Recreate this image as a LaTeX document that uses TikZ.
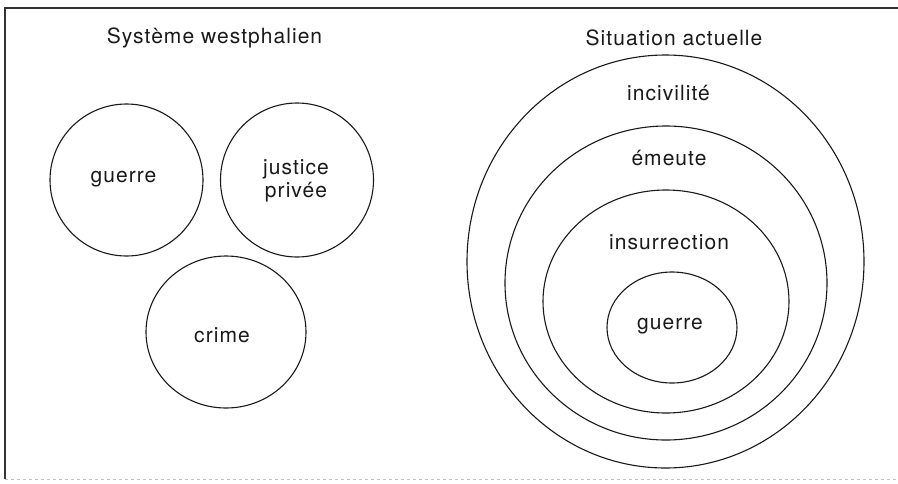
\documentclass[tikz,border=0pt]{standalone}
\usepackage{fontspec}
\setmainfont{TeX Gyre Heros}[LetterSpace=5]
\usetikzlibrary{shapes.geometric}
\begin{document}
\begin{tikzpicture}[x=1pt,y=-1pt,
  ring/.style={draw=black!90, line width=1.1pt, ellipse, inner sep=0pt},
  lbl/.style={font=\fontsize{21}{23}\selectfont, text=black!90, inner sep=0pt, align=center},
  ttl/.style={font=\fontsize{21}{23}\selectfont, text=black!90, inner sep=0pt}]
\useasboundingbox (0,0) rectangle (898,483);
% frame
\coordinate (fbl) at (5,479);
\coordinate (ftl) at (5,8);
\coordinate (ftr) at (898,8);
\coordinate (fbr) at (898,479);
\draw[black!80, line width=1.2pt] (fbl) -- (ftl) -- (ftr);
\draw[black!25, line width=0.8pt, dashed] (fbl) -- (fbr);
% titles
\node[ttl] (t1) at (214.5,38) {Système westphalien};
\node[ttl] (t2) at (674,38) {Situation actuelle};
% left circles
\node[ring, minimum width=153pt, minimum height=152pt] (c1) at (126.5,180) {};
\node[ring, minimum width=153pt, minimum height=154pt] (c2) at (297,180) {};
\node[ring, minimum width=160pt, minimum height=152pt] (c3) at (226,332) {};
\node[lbl] (l1) at (123.5,179) {guerre};
\node[lbl] (l2) at (296,181) {justice\\privée};
\node[lbl] (l3) at (222,335) {crime};
% right nested ellipses
\node[ring, minimum width=397pt, minimum height=413pt] (e1) at (665.5,261.5) {};
\node[ring, minimum width=322pt, minimum height=314pt] (e2) at (666,283) {};
\node[ring, minimum width=246pt, minimum height=223pt] (e3) at (666,301.5) {};
\node[ring, minimum width=130pt, minimum height=111pt] (e4) at (672,327.5) {};
\node[lbl] (r1) at (668.5,93) {incivilité};
\node[lbl] (r2) at (669,158) {émeute};
\node[lbl] (r3) at (669,242) {insurrection};
\node[lbl] (r4) at (670,326) {guerre};
\end{tikzpicture}
\end{document}
